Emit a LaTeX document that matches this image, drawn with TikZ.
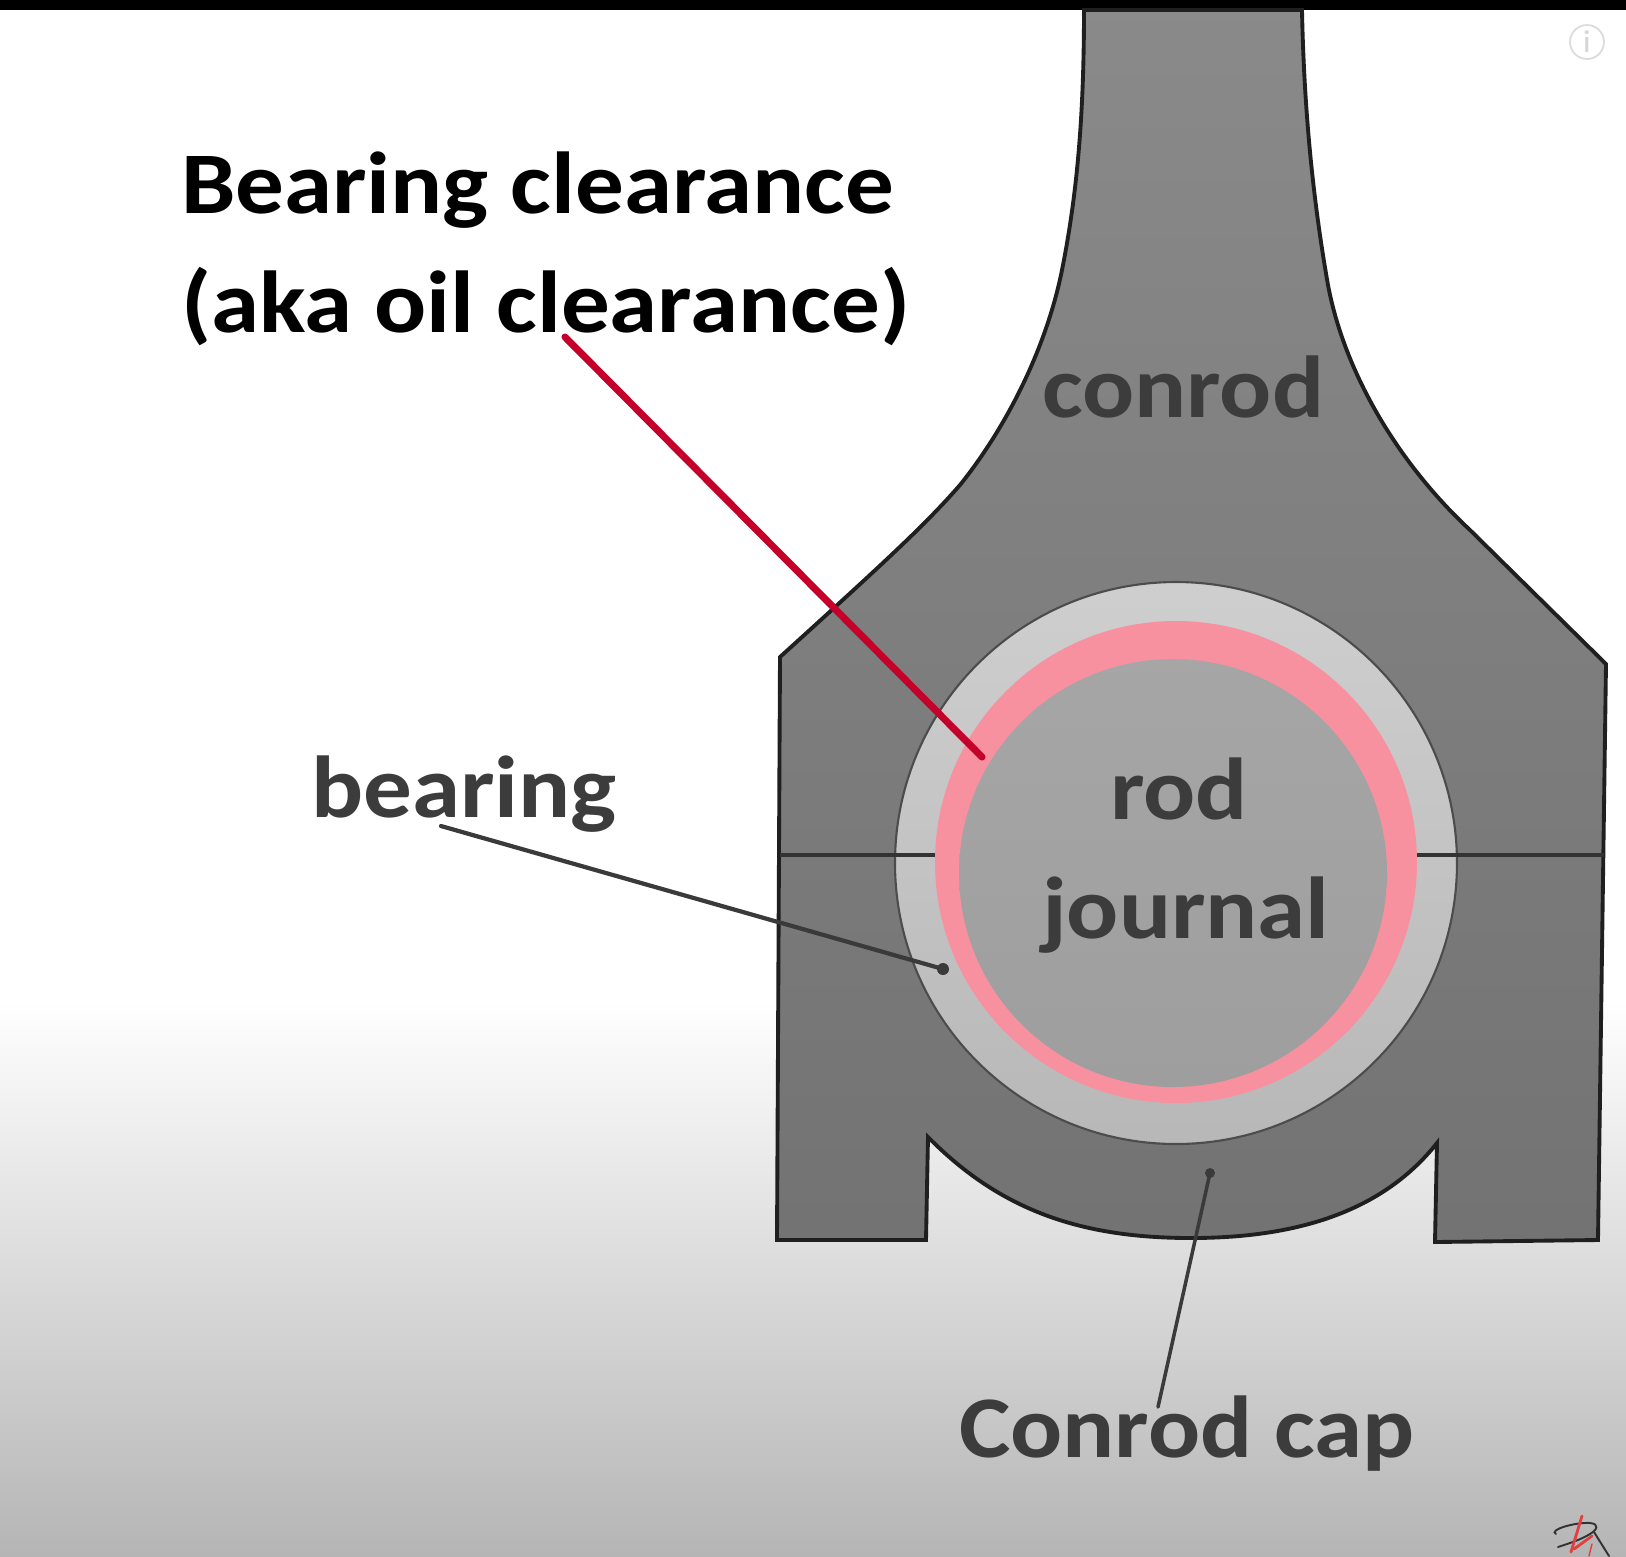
\documentclass[tikz,border=0pt]{standalone}
\usepackage{fontspec}
\setmainfont{Carlito}[FakeStretch=1.105]
\definecolor{redline}{HTML}{C4002A}
\definecolor{leader}{HTML}{3A3A3A}
\definecolor{labeltext}{HTML}{3C3C3C}
\definecolor{pinkring}{HTML}{F8919F}
\definecolor{logored}{HTML}{E0403F}
\tikzset{
  lbl/.style={anchor=base west,inner sep=0pt,outer sep=0pt,text=labeltext,font=\bfseries\fontsize{25pt}{29pt}\selectfont},
  headlbl/.style={lbl,text=black},
  outline/.style={draw=black!88,line width=1.1pt,line join=miter},
  leaderline/.style={draw=leader,line width=1.2pt,line cap=round},
  redleader/.style={draw=redline,line width=2pt,line cap=round},
  splitline/.style={draw=black!80,line width=0.9pt},
  logoblack/.style={draw=black!80,line width=0.55pt,line cap=round},
  logoredline/.style={draw=logored,line width=0.8pt,line cap=round}
}
\begin{document}
\begin{tikzpicture}[x=0.01cm,y=-0.01cm]
\useasboundingbox (0,0) rectangle (1626,1556);
% background
\fill[white] (0,0) rectangle (1626,1000);
\shade[top color=white,bottom color=black!29] (0,1000) rectangle (1626,1556);
\fill[black] (0,0) rectangle (1626,10);
% conrod outline
\path[outline,top color=black!46,bottom color=black!55]
  (1084,10)
  .. controls (1084,110) and (1078,190) .. (1062,270)
  .. controls (1048,340) and (1012,420) .. (960,485)
  .. controls (925,525) and (887,560) .. (780,657)
  -- (777,1240) -- (926,1240) -- (928,1137)
  .. controls (1000,1210) and (1080,1238) .. (1191,1238)
  .. controls (1290,1238) and (1380,1215) .. (1437,1143)
  -- (1435,1242) -- (1598,1240) -- (1606,664)
  -- (1470,530)
  .. controls (1400,465) and (1345,375) .. (1328,285)
  .. controls (1313,200) and (1304,110) .. (1302,10)
  -- cycle;
% bearing
\path[draw=black!70,line width=0.6pt,top color=black!19,bottom color=black!28] (1176,863) circle[radius=281];
% clearance
\fill[pinkring] (1176,862) circle[radius=241];
% journal
\path[top color=black!35,bottom color=black!38] (1173,873) circle[radius=214];
% split lines
\coordinate (splitLa) at (780,855);
\coordinate (splitLb) at (935,855);
\coordinate (splitRa) at (1417,855);
\coordinate (splitRb) at (1604,855);
\draw[splitline] (splitLa) -- (splitLb);
\draw[splitline] (splitRa) -- (splitRb);
% labels
\node[headlbl] (head1) at (181,213) {Bearing clearance};
\node[headlbl] (head2) at (181,332) {(aka oil clearance)};
\node[lbl] (conrod) at (1042,417) {conrod};
\node[lbl] (bearing) at (311,817) {bearing};
\node[lbl] (rod) at (1110,819) {rod};
\node[lbl] (journal) at (1042,938) {journal};
\node[lbl] (cap) at (959,1457) {Conrod cap};
% connectors
\coordinate (clearEnd) at (982,757);
\coordinate (clearStart) at (565,337);
\draw[redleader] (clearStart) -- (clearEnd);
\coordinate (bearStart) at (441,826);
\coordinate (bearEnd) at (943,969);
\draw[leaderline] (bearStart) -- (bearEnd);
\fill[leader] (bearEnd) circle[radius=6];
\coordinate (capStart) at (1158,1407);
\coordinate (capEnd) at (1210,1173);
\draw[leaderline,line width=1pt] (capStart) -- (capEnd);
\fill[leader] (capEnd) circle[radius=5];
% info icon
\draw[black!14,line width=0.5pt] (1587,42) circle[radius=17];
\node[inner sep=0pt,text=black!16,font=\fontsize{9pt}{10pt}\selectfont] (info) at (1587,42) {i};
% signature
\draw[logoblack] (1556,1534) .. controls (1548,1530) and (1575,1522) .. (1590,1523)
  .. controls (1600,1524) and (1597,1530) .. (1590,1534)
  .. controls (1580,1540) and (1570,1543) .. (1558,1547);
\draw[logoblack] (1594,1532) -- (1609,1556);
\draw[logoredline] (1582,1516) -- (1571,1552);
\draw[logoredline] (1592,1536) -- (1574,1549);
\draw[logoredline,line width=0.4pt] (1592,1544) -- (1589,1556);
\end{tikzpicture}
\end{document}
